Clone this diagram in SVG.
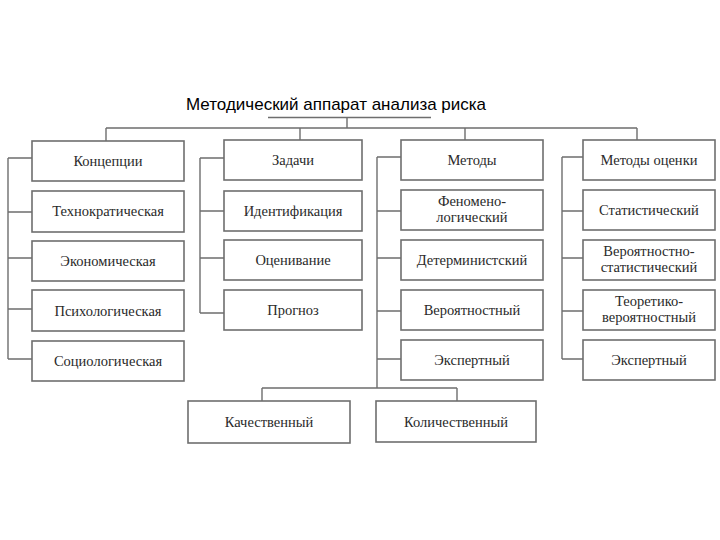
<svg xmlns="http://www.w3.org/2000/svg" width="720" height="540" viewBox="0 0 720 540">
<style>
.box{fill:#fff;stroke:#6e6e6e;stroke-width:1.6}
.t{font-family:"Liberation Serif","Times New Roman",serif;font-size:14.5px;fill:#2a2a2a;text-anchor:middle}
.title{font-family:"Liberation Sans",Arial,sans-serif;font-size:17px;fill:#000}
.c{fill:none;stroke:#6e6e6e;stroke-width:1.4}
</style>
<rect width="720" height="540" fill="#fff"/>
<text class="title" x="186" y="110">Методический аппарат анализа риска</text>
<g id="connectors">
<path class="c" d="M268 117.5H431M347 117.5V128M106 128H637M106 128V141M300 128V140M465 128V140M637 128V140"/>
<path class="c" d="M8 158V359M8 158H32M8 212H32M8 258H32M8 309H32M8 359H32"/>
<path class="c" d="M200 158V313M200 158H224M200 211H224M200 258H224M200 313H224"/>
<path class="c" d="M377 157V388M377 157H401M377 211H401M377 258H401M377 311H401M377 359H401M262 388H457M262 388V401M457 388V401"/>
<path class="c" d="M562 157V359M562 157H583M562 211H583M562 258H583M562 311H583M562 359H583"/>
</g>
<g id="n-koncepcii"><rect class="box" x="32" y="141" width="152" height="40"/><text class="t" x="108" y="166">Концепции</text></g>
<g id="n-tehno"><rect class="box" x="32" y="191" width="152" height="41"/><text class="t" x="108" y="216">Технократическая</text></g>
<g id="n-ekon"><rect class="box" x="32" y="241" width="152" height="40"/><text class="t" x="108" y="266">Экономическая</text></g>
<g id="n-psih"><rect class="box" x="32" y="290" width="152" height="41"/><text class="t" x="108" y="316">Психологическая</text></g>
<g id="n-socio"><rect class="box" x="32" y="341" width="152" height="40"/><text class="t" x="108" y="366">Социологическая</text></g>

<g id="n-zadachi"><rect class="box" x="224" y="140" width="138" height="40"/><text class="t" x="293" y="165">Задачи</text></g>
<g id="n-ident"><rect class="box" x="224" y="191" width="138" height="40"/><text class="t" x="293" y="216">Идентификация</text></g>
<g id="n-ocen"><rect class="box" x="224" y="240" width="138" height="40"/><text class="t" x="293" y="265">Оценивание</text></g>
<g id="n-prognoz"><rect class="box" x="224" y="290" width="138" height="40"/><text class="t" x="293" y="315">Прогноз</text></g>

<g id="n-metody"><rect class="box" x="401" y="140" width="142" height="40"/><text class="t" x="472" y="165">Методы</text></g>
<g id="n-fenom"><rect class="box" x="401" y="190" width="142" height="40"/><text class="t" x="472" y="206">Феномено-</text><text class="t" x="472" y="222">логический</text></g>
<g id="n-determ"><rect class="box" x="401" y="240" width="142" height="40"/><text class="t" x="472" y="265">Детерминистский</text></g>
<g id="n-veroyat"><rect class="box" x="401" y="290" width="142" height="40"/><text class="t" x="472" y="315">Вероятностный</text></g>
<g id="n-ekspert1"><rect class="box" x="401" y="340" width="142" height="40"/><text class="t" x="472" y="365">Экспертный</text></g>

<g id="n-metody-ocenki"><rect class="box" x="583" y="140" width="132" height="40"/><text class="t" x="649" y="165">Методы оценки</text></g>
<g id="n-stat"><rect class="box" x="583" y="190" width="132" height="40"/><text class="t" x="649" y="215">Статистический</text></g>
<g id="n-verstat"><rect class="box" x="583" y="240" width="132" height="40"/><text class="t" x="649" y="256">Вероятностно-</text><text class="t" x="649" y="272">статистический</text></g>
<g id="n-teor"><rect class="box" x="583" y="290" width="132" height="40"/><text class="t" x="649" y="306">Теоретико-</text><text class="t" x="649" y="322">вероятностный</text></g>
<g id="n-ekspert2"><rect class="box" x="583" y="340" width="132" height="40"/><text class="t" x="649" y="365">Экспертный</text></g>

<g id="n-kach"><rect class="box" x="188" y="401" width="162" height="42"/><text class="t" x="269" y="427">Качественный</text></g>
<g id="n-kol"><rect class="box" x="376" y="401" width="160" height="41"/><text class="t" x="456" y="427">Количественный</text></g>
</svg>
